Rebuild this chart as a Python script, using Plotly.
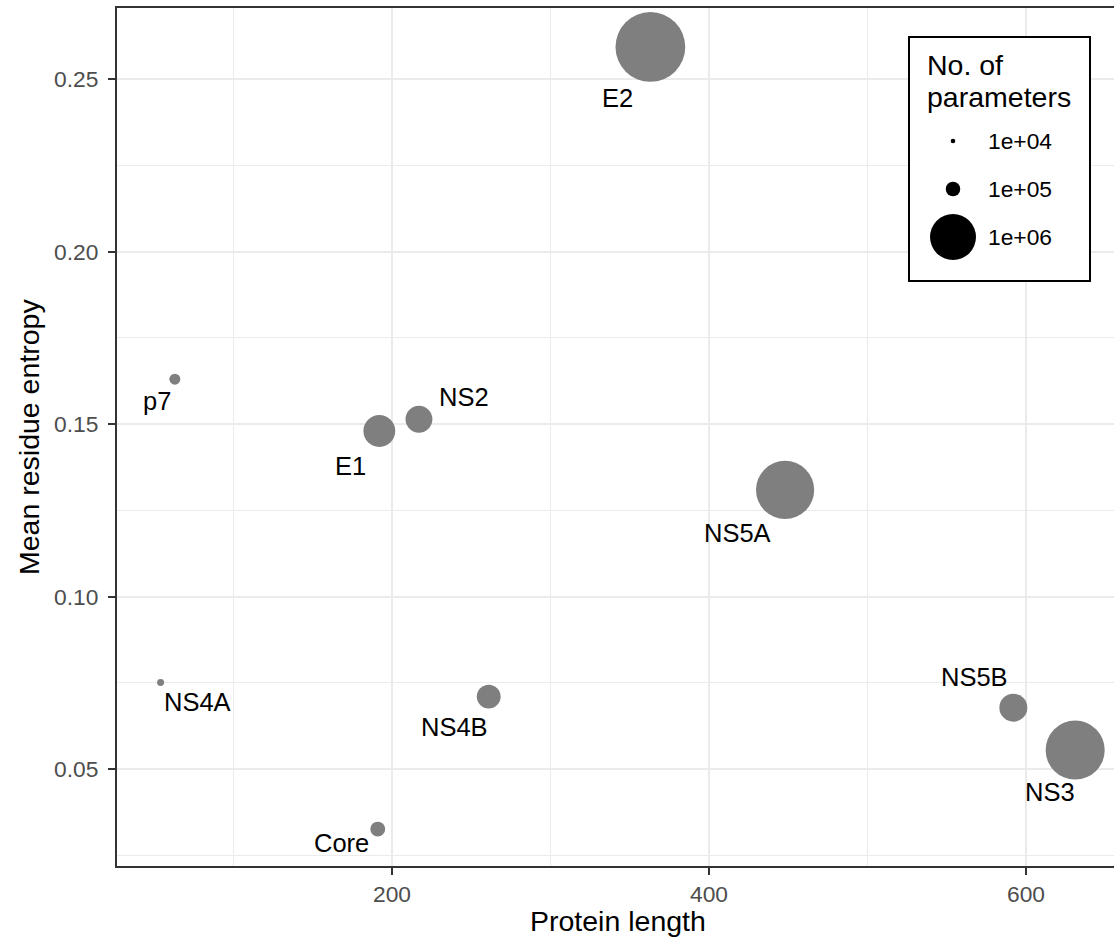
import plotly.graph_objects as go

# ---- data ----
proteins = ["Core", "E1", "E2", "p7", "NS2", "NS3", "NS4A", "NS4B", "NS5A", "NS5B"]
protein_length = [191, 192, 363, 63, 217, 631, 54, 261, 448, 592]
mean_entropy = [0.0326, 0.1480, 0.2593, 0.1630, 0.1514, 0.0555, 0.0751, 0.0710, 0.1309, 0.0678]
n_parameters = [1.05e5, 4.8e5, 2.3e6, 5.7e4, 3.4e5, 1.65e6, 2.3e4, 2.7e5, 1.6e6, 3.7e5]

legend_values = [1e4, 1e5, 1e6]
legend_labels = ["1e+04", "1e+05", "1e+06"]

x_tickvals = [200, 400, 600]
y_tickvals = [0.05, 0.10, 0.15, 0.20, 0.25]
y_ticktext = ["0.05", "0.10", "0.15", "0.20", "0.25"]

# label offsets (px) from point centre: (dx, dy), dy positive = downward
label_offsets = {
    "Core": (-36, 14), "E1": (-29, 35), "E2": (-33, 51), "p7": (-18, 22),
    "NS2": (45, -22), "NS3": (-25, 42), "NS4A": (37, 20), "NS4B": (-34, 30),
    "NS5A": (-48, 43), "NS5B": (-39, -31),
}

# ---- styling ----
W, H = 1114, 941
ML, MT, MB, MR = 117, 8, 75, 0
PW, PH = W - ML - MR, H - MT - MB
XR = [26.5, 655.5]
YR = [0.0219, 0.2706]
FONT = "Liberation Sans, Arial, Helvetica, sans-serif"
GRID = "#EBEBEB"
BORDER = "#333333"
POINT = "#7F7F7F"
SIZEREF = 2e6 / 46 ** 2   # plotly area mode: diameter = sqrt(2*v/sizeref)


def px_x(p):
    return (p - ML) / PW


def px_y(p):
    return (H - MB - p) / PH


def dx_(p):
    return XR[0] + px_x(p) * (XR[1] - XR[0])


def dy_(p):
    return YR[0] + px_y(p) * (YR[1] - YR[0])


fig = go.Figure()

fig.add_trace(go.Scatter(
    x=protein_length, y=mean_entropy, mode="markers",
    marker=dict(size=n_parameters, sizemode="area", sizeref=SIZEREF,
                color=POINT, line=dict(width=0), opacity=1),
    showlegend=False, hoverinfo="skip", cliponaxis=False,
))

# legend keys on their own small axes
fig.add_trace(go.Scatter(
    x=[0] * len(legend_values), y=list(range(len(legend_values))), mode="markers",
    marker=dict(size=legend_values, sizemode="area", sizeref=SIZEREF,
                color="black", line=dict(width=0), opacity=1),
    xaxis="x2", yaxis="y2", showlegend=False, hoverinfo="skip", cliponaxis=False,
))

annotations = []
for name, xv, yv in zip(proteins, protein_length, mean_entropy):
    ox, oy = label_offsets[name]
    annotations.append(dict(
        x=xv, y=yv, xref="x", yref="y", text=name, showarrow=True,
        arrowcolor="rgba(0,0,0,0)", arrowwidth=1, arrowhead=0, ax=ox, ay=oy,
        font=dict(family=FONT, size=25.5, color="black"),
    ))

for i, lab in enumerate(legend_labels):
    annotations.append(dict(
        x=px_x(986), y=i, xref="paper", yref="y2", text=lab, showarrow=False,
        xanchor="left", yanchor="middle",
        font=dict(family=FONT, size=22.8, color="black"),
    ))

annotations.append(dict(x=px_x(925), y=px_y(65), xref="paper", yref="paper",
                        text="No. of", showarrow=False, xanchor="left", yanchor="middle",
                        font=dict(family=FONT, size=28.5, color="black")))
annotations.append(dict(x=px_x(925), y=px_y(97), xref="paper", yref="paper",
                        text="parameters", showarrow=False, xanchor="left", yanchor="middle",
                        font=dict(family=FONT, size=28.5, color="black")))

annotations.append(dict(x=px_x(618), y=px_y(921), xref="paper", yref="paper",
                        text="Protein length", showarrow=False, xanchor="center",
                        yanchor="middle", font=dict(family=FONT, size=28.5, color="black")))
annotations.append(dict(x=px_x(29), y=px_y(437), xref="paper", yref="paper",
                        text="Mean residue entropy", showarrow=False, textangle=-90,
                        xanchor="center", yanchor="middle",
                        font=dict(family=FONT, size=28.5, color="black")))

shapes = [dict(
    type="rect", xref="x", yref="y",
    x0=dx_(909), x1=dx_(1090), y0=dy_(281), y1=dy_(37),
    line=dict(color="black", width=2), fillcolor="white", layer="between",
)]

fig.update_layout(
    width=W, height=H,
    margin=dict(l=ML, r=MR, t=MT, b=MB, pad=0, autoexpand=False),
    paper_bgcolor="white", plot_bgcolor="white",
    showlegend=False,
    annotations=annotations, shapes=shapes,
    xaxis=dict(
        domain=[0, 1], range=XR, tickvals=x_tickvals,
        ticks="outside", ticklen=7, tickwidth=2, tickcolor=BORDER,
        tickfont=dict(family=FONT, size=22.8, color="#4D4D4D"),
        showgrid=True, gridcolor=GRID, gridwidth=2,
        minor=dict(tick0=0, dtick=100, showgrid=True, gridcolor=GRID, gridwidth=1, ticks=""),
        showline=True, linecolor=BORDER, linewidth=2, mirror=True,
        zeroline=False, fixedrange=True, automargin=False,
    ),
    yaxis=dict(
        domain=[0, 1], range=YR, tickvals=y_tickvals, ticktext=y_ticktext,
        ticks="outside", ticklen=7, tickwidth=2, tickcolor=BORDER,
        tickfont=dict(family=FONT, size=22.8, color="#4D4D4D"),
        ticklabelstandoff=5,
        showgrid=True, gridcolor=GRID, gridwidth=2,
        minor=dict(tick0=0.025, dtick=0.05, showgrid=True, gridcolor=GRID, gridwidth=1, ticks=""),
        showline=True, linecolor=BORDER, linewidth=2, mirror=False,
        zeroline=False, fixedrange=True, automargin=False,
    ),
    xaxis2=dict(domain=[px_x(933), px_x(973)], range=[-1, 1], anchor="y2",
                showgrid=False, zeroline=False, showline=False, showticklabels=False,
                ticks="", fixedrange=True),
    yaxis2=dict(domain=[px_y(261), px_y(117)], range=[2.5, -0.5], anchor="x2",
                showgrid=False, zeroline=False, showline=False, showticklabels=False,
                ticks="", fixedrange=True),
)

fig.write_html("out.html", config={"displayModeBar": False},
               post_script="document.body.style.margin='0';")
